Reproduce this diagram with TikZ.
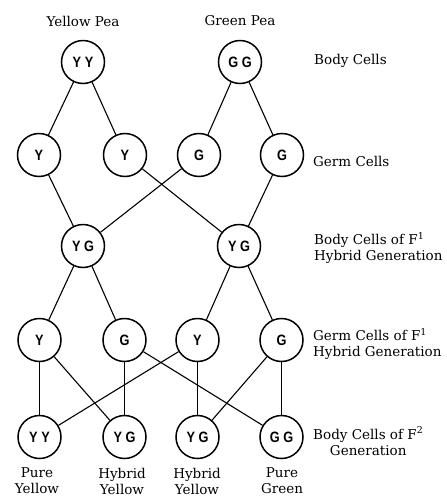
\documentclass[tikz,border=0pt]{standalone}
\usepackage{fontspec}
\setmainfont{DejaVu Serif}
\newfontfamily\cellfont{Liberation Sans}[FakeStretch=0.85]
\begin{document}
\begin{tikzpicture}[x=1pt,y=-1pt,
  cell/.style={circle,draw,line width=1.5pt,minimum size=43pt,inner sep=0pt,
    font=\cellfont\bfseries\fontsize{15}{15}\selectfont},
  lbl/.style={font=\fontsize{13.5}{16}\selectfont,align=left,anchor=west,inner sep=0pt},
  blbl/.style={font=\fontsize{13.5}{16}\selectfont,align=center,inner sep=0pt},
  link/.style={line width=1.1pt}]
\useasboundingbox (0,0) rectangle (447,499);
% row 1
\node[cell] (yy) at (83,62) {Y Y};
\node[cell] (gg) at (240,62) {G G};
% row 2
\node[cell] (y1) at (39,155) {Y};
\node[cell] (y2) at (125,155) {Y};
\node[cell] (g1) at (199,155) {G};
\node[cell] (g2) at (282,155) {G};
% row 3
\node[cell] (f1a) at (83,246) {Y G};
\node[cell] (f1b) at (239,246) {Y G};
% row 4
\node[cell] (hy1) at (39.5,340) {Y};
\node[cell] (hg1) at (124.5,340) {G};
\node[cell] (hy2) at (197.5,340) {Y};
\node[cell] (hg2) at (281.5,340) {G};
% row 5
\node[cell] (pyy) at (39.5,437) {Y Y};
\node[cell] (hyg1) at (124.5,437) {Y G};
\node[cell] (hyg2) at (197.5,437) {Y G};
\node[cell] (pgg) at (281.5,437) {G G};
% top labels
\node[blbl] (tl1) at (83,21) {Yellow Pea};
\node[blbl] (tl2) at (240,21) {Green Pea};
% bottom labels
\node[blbl] (bl1) at (37,481) {Pure\\Yellow};
\node[blbl] (bl2) at (122,481) {Hybrid\\Yellow};
\node[blbl] (bl3) at (197,481) {Hybrid\\Yellow};
\node[blbl] (bl4) at (282,481) {Pure\\Green};
% right labels
\node[lbl] (r1) at (314,61) {Body Cells};
\node[lbl] (r2) at (313,161) {Germ Cells};
\node[lbl] (r3) at (314,248) {Body Cells of F\textsuperscript{1}\\Hybrid Generation};
\node[lbl] (r4) at (313,344) {Germ Cells of F\textsuperscript{1}\\Hybrid Generation};
\node[lbl,align=center] (r5) at (313,441) {Body Cells of F\textsuperscript{2}\\Generation};
% connectors
\draw[link] (yy) -- (y1);
\draw[link] (yy) -- (y2);
\draw[link] (gg) -- (g1);
\draw[link] (gg) -- (g2);
\draw[link] (y1) -- (f1a);
\draw[link] (g1) -- (f1a);
\draw[link] (y2) -- (f1b);
\draw[link] (g2) -- (f1b);
\draw[link] (f1a) -- (hy1);
\draw[link] (f1a) -- (hg1);
\draw[link] (f1b) -- (hy2);
\draw[link] (f1b) -- (hg2);
\draw[link] (hy1) -- (pyy);
\draw[link] (hy1) -- (hyg1);
\draw[link] (hg1) -- (hyg1);
\draw[link] (hg1) -- (pgg);
\draw[link] (hy2) -- (pyy);
\draw[link] (hy2) -- (hyg2);
\draw[link] (hg2) -- (hyg2);
\draw[link] (hg2) -- (pgg);
\end{tikzpicture}
\end{document}
